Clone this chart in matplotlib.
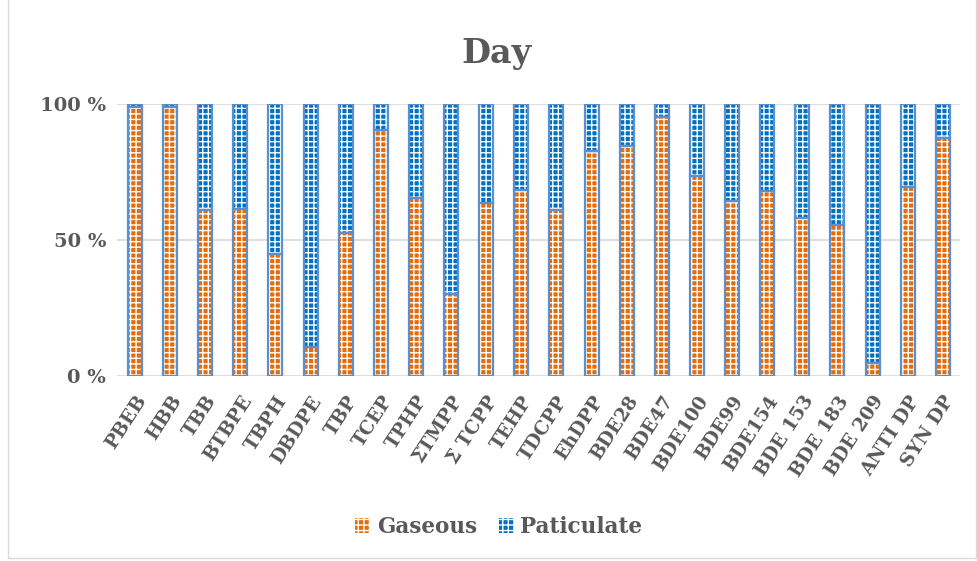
import numpy as np
import matplotlib
matplotlib.use('Agg')
import matplotlib.pyplot as plt
from matplotlib.patches import Rectangle, Patch

compounds = ['PBEB', 'HBB', 'TBB', 'BTBPE', 'TBPH', 'DBDPE', 'TBP', 'TCEP', 'TPHP',
             '\u03a3TMPP', '\u03a3 TCPP', 'TEHP', 'TDCPP', 'EhDPP', 'BDE28', 'BDE47',
             'BDE100', 'BDE99', 'BDE154', 'BDE 153', 'BDE 183', 'BDE 209', 'ANTI DP', 'SYN DP']
gaseous = [99, 99, 61, 61.5, 44.7, 10.5, 52.4, 90.4, 65.3,
           30.0, 63.7, 68.4, 60.8, 82.7, 84.6, 95.0,
           73.5, 64.1, 68.1, 58.2, 55.5, 4.7, 69.4, 87.4]
particulate = [100 - g for g in gaseous]

orange = '#E46C0A'
blue = '#0070C0'
outline = '#5B8FD0'
grey_text = '#595959'
font = 'DejaVu Serif'

fig = plt.figure(figsize=(9.78, 5.61), dpi=100)
ax = fig.add_axes([0.12, 0.33, 0.862, 0.485])

x = np.arange(len(compounds))
w = 0.4

# solid colour with a fine white cross hatch, outline drawn on top
plt.rcParams['hatch.linewidth'] = 1.0
ax.bar(x, gaseous, w, color=orange, edgecolor='white', hatch='+++', linewidth=0, zorder=2)
ax.bar(x, particulate, w, bottom=gaseous, color=blue, edgecolor='white', hatch='+++',
       linewidth=0, zorder=2)
ax.bar(x, gaseous, w, fill=False, edgecolor=outline, linewidth=1.6, zorder=3)
ax.bar(x, particulate, w, bottom=gaseous, fill=False, edgecolor=outline, linewidth=1.6, zorder=3)

ax.set_ylim(0, 100)
ax.set_xlim(-0.5, len(compounds) - 0.5)
ax.set_yticks([0, 50, 100])
ax.set_yticklabels(['0 %', '50 %', '100 %'], fontfamily=font, fontweight='bold',
                   fontsize=14, color=grey_text)
ax.set_xticks(x)
ax.set_xticklabels(compounds, rotation=57, ha='right', rotation_mode='anchor',
                   fontfamily=font, fontweight='bold', fontsize=13.5, color=grey_text)
ax.tick_params(length=0, pad=8)
ax.tick_params(axis='x', pad=12)
ax.yaxis.grid(True, color='#D9D9D9', linewidth=1.2, zorder=0)
ax.set_axisbelow(True)
for s in ax.spines.values():
    s.set_visible(False)

fig.text(0.508, 0.905, 'Day', ha='center', va='center', fontfamily=font,
         fontweight='bold', fontsize=24, color=grey_text)

handles = [Patch(facecolor=orange, edgecolor='white', hatch='+++', label='Gaseous'),
           Patch(facecolor=blue, edgecolor='white', hatch='+++', label='Paticulate')]
leg = fig.legend(handles=handles, loc='center', bbox_to_anchor=(0.51, 0.061), ncol=2,
                 frameon=False, handlelength=0.7, handleheight=0.7, handletextpad=0.3,
                 columnspacing=1.0, prop={'family': font, 'weight': 'bold', 'size': 15.5})
for t in leg.get_texts():
    t.set_color(grey_text)
for p in leg.get_patches():
    p.set_linewidth(0)
    p.set_edgecolor('white')

# light frame round the chart area
fig.patches.append(Rectangle((0.008, 0.005), 0.99, 1.0, transform=fig.transFigure,
                             fill=False, edgecolor='#D9D9D9', linewidth=1))

fig.savefig('out.png', dpi=100)
